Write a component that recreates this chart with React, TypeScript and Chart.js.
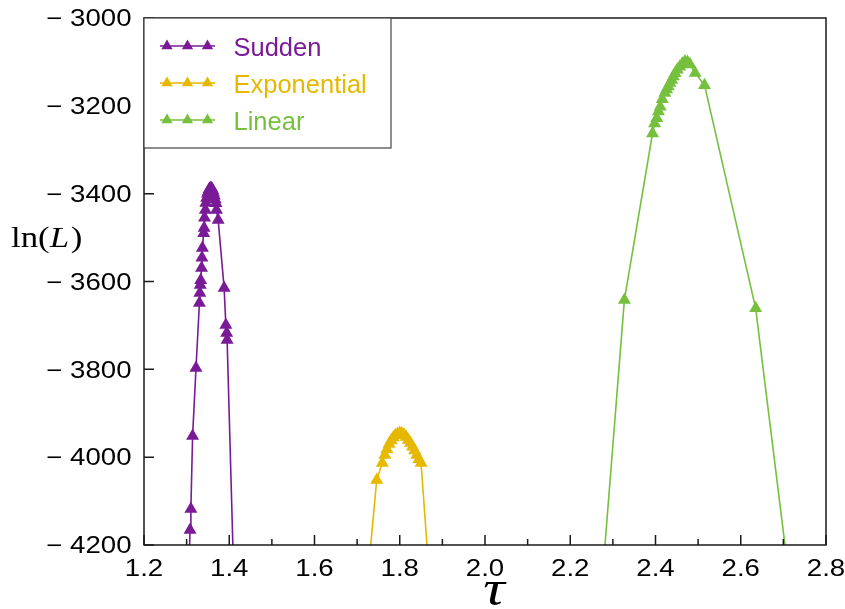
import React, { useEffect, useRef } from "react";
import { Chart, registerables } from "chart.js";

Chart.register(...registerables);

// ---------- data ----------
const seriesNames = ["Sudden", "Exponential", "Linear"];
const seriesColors = ["#7A1A96", "#E6B800", "#76C03E"];

const suddenTau = [
  1.3, 1.308, 1.31, 1.314, 1.322, 1.33, 1.331, 1.332, 1.333, 1.335, 1.336, 1.337, 1.34, 1.341, 1.342, 1.344,
  1.345, 1.347, 1.349, 1.351, 1.353, 1.355, 1.357, 1.359, 1.361, 1.363, 1.365, 1.367, 1.369, 1.37, 1.374,
  1.388, 1.392, 1.394, 1.395, 1.42,
];
const suddenLnL = [
  -4450, -4166, -4118, -3952, -3797, -3649, -3626, -3608, -3597, -3569, -3546, -3524, -3490, -3478, -3455, -3437,
  -3421, -3410, -3400, -3395, -3390, -3388, -3387, -3388, -3392, -3398, -3405, -3413, -3422, -3437, -3460,
  -3615, -3699, -3717, -3733, -4600,
];

const expTau = [
  1.703, 1.746, 1.759, 1.765, 1.77, 1.775, 1.78, 1.785, 1.79, 1.795, 1.8, 1.805, 1.81, 1.815, 1.82, 1.825,
  1.83, 1.835, 1.84, 1.845, 1.85, 1.886,
];
const expLnL = [
  -4500, -4052, -4013, -3995, -3982, -3970, -3962, -3955, -3950, -3947, -3945, -3946, -3949, -3954, -3961, -3968,
  -3976, -3985, -3995, -4005, -4013, -4500,
];

const linTau = [
  2.257, 2.327, 2.393, 2.398, 2.403, 2.407, 2.411, 2.416, 2.422, 2.426, 2.43, 2.434, 2.438, 2.442, 2.446, 2.451,
  2.457, 2.463, 2.469, 2.475, 2.481, 2.493, 2.515, 2.635, 2.742,
];
const linLnL = [
  -4500, -3642, -3263, -3240, -3228, -3213, -3202, -3185, -3171, -3163, -3156, -3148, -3141, -3133, -3126, -3118,
  -3111, -3104, -3099, -3100, -3106, -3125, -3153, -3661, -4500,
];

const xTicks = [1.2, 1.4, 1.6, 1.8, 2.0, 2.2, 2.4, 2.6, 2.8];
const xMinorTicks = [1.3, 1.5, 1.7, 1.9, 2.1, 2.3, 2.5, 2.7];
const yTicks = [-3000, -3200, -3400, -3600, -3800, -4000, -4200];

const toPoints = (xs: number[], ys: number[]) => xs.map((x, i) => ({ x, y: ys[i] }));

const SANS = "'Liberation Sans', Arial, Helvetica, sans-serif";
const SERIF = "'Liberation Serif', 'Times New Roman', serif";
const STRETCH = 1.2;

const drawStretched = (ctx: any, text: string, x: number, y: number, align: string) => {
  ctx.save();
  ctx.translate(x, y);
  ctx.scale(STRETCH, 1);
  ctx.textAlign = align;
  ctx.fillText(text, 0, 0);
  ctx.restore();
};

const decorPlugin = {
  id: "decor",
  afterDraw(chart: any) {
    const { ctx, chartArea, scales } = chart;
    const xs = scales.x;
    const ys = scales.y;
    const { left, right, top, bottom } = chartArea;
    ctx.save();
    // frame
    ctx.strokeStyle = "#1a1a1a";
    ctx.lineWidth = 1.5;
    ctx.strokeRect(left, top, right - left, bottom - top);
    // ticks
    ctx.beginPath();
    xTicks.forEach((v) => {
      const px = xs.getPixelForValue(v);
      ctx.moveTo(px, bottom);
      ctx.lineTo(px, bottom - 10);
    });
    xMinorTicks.forEach((v) => {
      const px = xs.getPixelForValue(v);
      ctx.moveTo(px, bottom);
      ctx.lineTo(px, bottom - 6);
    });
    yTicks.forEach((v) => {
      const py = ys.getPixelForValue(v);
      ctx.moveTo(left, py);
      ctx.lineTo(left + 10, py);
    });
    ctx.stroke();

    // tick labels
    ctx.fillStyle = "#000";
    ctx.textBaseline = "alphabetic";
    ctx.font = `23px ${SANS}`;
    xTicks.forEach((v) => {
      drawStretched(ctx, v.toFixed(1), xs.getPixelForValue(v), bottom + 31, "center");
    });
    yTicks.forEach((v) => {
      drawStretched(ctx, "\u2212 " + Math.abs(v), left - 12.5, ys.getPixelForValue(v) + 8.3, "right");
    });

    // legend
    const lx = left;
    const ly = top;
    const lw = 247;
    const lh = 130;
    ctx.fillStyle = "#ffffff";
    ctx.fillRect(lx, ly, lw, lh);
    ctx.strokeStyle = "#444";
    ctx.lineWidth = 1.2;
    ctx.strokeRect(lx, ly, lw, lh);
    chart.data.datasets.forEach((ds: any, i: number) => {
      const cy = ly + 28 + i * 37;
      ctx.strokeStyle = ds.borderColor;
      ctx.lineWidth = 1.5;
      ctx.beginPath();
      ctx.moveTo(lx + 16, cy);
      ctx.lineTo(lx + 71, cy);
      ctx.stroke();
      ctx.fillStyle = ds.borderColor;
      [23, 43.5, 63.5].forEach((dx) => {
        const r = 6.5;
        const cx = lx + dx;
        ctx.beginPath();
        ctx.moveTo(cx, cy - r);
        ctx.lineTo(cx + r * 0.866, cy + r * 0.5);
        ctx.lineTo(cx - r * 0.866, cy + r * 0.5);
        ctx.closePath();
        ctx.fill();
      });
      ctx.font = `25.5px ${SANS}`;
      ctx.textBaseline = "alphabetic";
      ctx.textAlign = "left";
      ctx.fillText(ds.label, lx + 89.5, ly + 37.7 + i * 37);
    });

    // y-axis title ln(L)
    ctx.fillStyle = "#000";
    ctx.textBaseline = "alphabetic";
    ctx.save();
    ctx.translate(11, 247);
    ctx.scale(STRETCH, 1);
    ctx.textAlign = "left";
    let tx = 0;
    ctx.font = `29px ${SERIF}`;
    ctx.fillText("ln(", tx, 0);
    tx += ctx.measureText("ln(").width;
    ctx.font = `italic 29px ${SERIF}`;
    ctx.fillText("L", tx, 0);
    tx += ctx.measureText("L").width + 1.5;
    ctx.font = `29px ${SERIF}`;
    ctx.fillText(")", tx, 0);
    ctx.restore();

    // x-axis title tau
    ctx.font = `italic 50px ${SERIF}`;
    drawStretched(ctx, "\u03c4", 494, 605, "center");
    ctx.restore();
  },
};

export default function App() {
  const ref = useRef<HTMLCanvasElement | null>(null);
  useEffect(() => {
    if (!ref.current) return;
    const mk = (i: number, xs: number[], ys: number[]) => ({
      label: seriesNames[i],
      data: toPoints(xs, ys),
      borderColor: seriesColors[i],
      backgroundColor: seriesColors[i],
      pointBackgroundColor: seriesColors[i],
      pointBorderColor: seriesColors[i],
      pointStyle: "triangle",
      pointRadius: 7.5,
      pointBorderWidth: 0,
      borderWidth: 1.6,
      showLine: true,
      tension: 0,
    });
    const chart = new Chart(ref.current, {
      type: "scatter",
      data: {
        datasets: [mk(0, suddenTau, suddenLnL), mk(1, expTau, expLnL), mk(2, linTau, linLnL)],
      },
      options: {
        animation: false,
        responsive: false,
        devicePixelRatio: 1,
        layout: { padding: { left: 0, top: 18, right: 19, bottom: 0 } },
        plugins: { legend: { display: false }, tooltip: { enabled: false } },
        scales: {
          x: {
            type: "linear",
            min: 1.2,
            max: 2.8,
            afterBuildTicks: (s: any) => {
              s.ticks = xTicks.map((v) => ({ value: v }));
            },
            afterFit: (s: any) => {
              s.height = 64;
              s.paddingLeft = 0;
              s.paddingRight = 0;
            },
            grid: { display: false, drawTicks: false },
            border: { display: false },
            ticks: { display: false },
          },
          y: {
            type: "linear",
            min: -4200,
            max: -3000,
            afterBuildTicks: (s: any) => {
              s.ticks = yTicks.map((v) => ({ value: v }));
            },
            afterFit: (s: any) => {
              s.width = 144;
              s.paddingTop = 0;
              s.paddingBottom = 0;
            },
            grid: { display: false, drawTicks: false },
            border: { display: false },
            ticks: { display: false },
          },
        },
      },
      plugins: [decorPlugin],
    } as any);
    return () => chart.destroy();
  }, []);
  return (
    <div style={{ position: "fixed", left: 0, top: 0, width: 845, height: 609, background: "#fff" }}>
      <canvas ref={ref} width={845} height={609} style={{ display: "block" }} />
    </div>
  );
}
